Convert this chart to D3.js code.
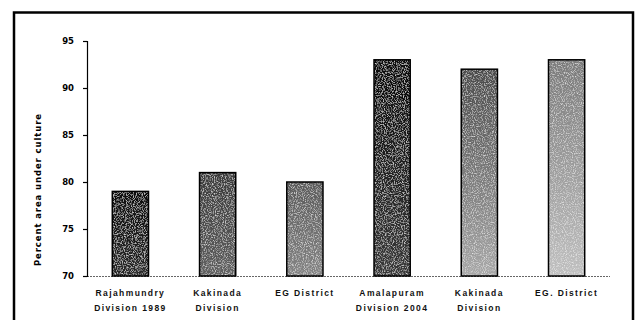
<!DOCTYPE html>
<html><head><meta charset="utf-8">
<script src="https://cdn.jsdelivr.net/npm/d3@7"></script>
<style>html,body{margin:0;padding:0;background:#fff;}</style>
</head><body>
<svg id="c" width="636" height="320"></svg>
<script>
const categories = [["Rajahmundry","Division 1989"],["Kakinada","Division"],["EG District"],["Amalapuram","Division 2004"],["Kakinada","Division"],["EG. District"]];
const values = [79, 81, 80, 93, 92, 93];
const yTicks = [70, 75, 80, 85, 90, 95];
const yTitle = "Percent area under culture";
const topShades = ["#0e0e0e","#3a3a3a","#5a5a5a","#080808","#4a4a4a","#7a7a7a"];
const botShades = ["#2a2a2a","#606060","#858585","#3a3a3a","#a8a8a8","#c0c0c0"];

const svg = d3.select("#c");
const x = d3.scaleBand().domain(d3.range(categories.length)).range([87, 610]).paddingInner(0.585).paddingOuter(0.29);
const y = d3.scaleLinear().domain([70, 95]).range([276, 41]);

const defs = svg.append("defs");
const f = defs.append("filter").attr("id","noise").attr("x",0).attr("y",0).attr("width",1).attr("height",1);
f.append("feTurbulence").attr("type","fractalNoise").attr("baseFrequency",0.9).attr("numOctaves",2).attr("seed",3).attr("result","t");
f.append("feColorMatrix").attr("in","t").attr("type","matrix")
 .attr("values","0 0 0 0 1  0 0 0 0 1  0 0 0 0 1  1.6 0 0 0 -0.75").attr("result","w");
f.append("feComposite").attr("in","w").attr("in2","SourceAlpha").attr("operator","in").attr("result","wm");
f.append("feMerge").call(m=>{m.append("feMergeNode").attr("in","SourceGraphic");m.append("feMergeNode").attr("in","wm");});
values.forEach((v,i)=>{
  const g = defs.append("linearGradient").attr("id","g"+i).attr("x1",0).attr("y1",0).attr("x2",0).attr("y2",1);
  g.append("stop").attr("offset","0%").attr("stop-color",topShades[i]);
  g.append("stop").attr("offset","100%").attr("stop-color",botShades[i]);
});

// frame
svg.append("path").attr("d","M14,330V12.5H633V330").attr("fill","none").attr("stroke","#000").attr("stroke-width",2.5);

// baseline dotted
svg.append("line").attr("x1",87).attr("x2",610).attr("y1",y(70)+0.5).attr("y2",y(70)+0.5)
  .attr("stroke","#666").attr("stroke-width",1).attr("stroke-dasharray","2,1");

// bars
svg.append("g").selectAll("rect").data(values).join("rect")
  .attr("x",(d,i)=>x(i)).attr("width",x.bandwidth())
  .attr("y",d=>y(d)).attr("height",d=>y(70)-y(d))
  .attr("fill",(d,i)=>`url(#g${i})`).attr("filter","url(#noise)");
svg.append("g").selectAll("rect").data(values).join("rect")
  .attr("x",(d,i)=>x(i)).attr("width",x.bandwidth())
  .attr("y",d=>y(d)).attr("height",d=>y(70)-y(d))
  .attr("fill","none").attr("stroke","#000").attr("stroke-width",1.5);

// y axis
const ya = svg.append("g").attr("transform","translate(87,0)")
  .call(d3.axisLeft(y).tickValues(yTicks).tickSize(4).tickPadding(9));
ya.select(".domain").attr("stroke","#000").attr("stroke-width",1.2);
ya.selectAll("line").attr("stroke","#000").attr("stroke-width",1.2);
ya.selectAll("text").attr("font-family","DejaVu Sans").attr("font-weight","bold").attr("font-size",8.5).attr("fill","#000");

// y title
svg.append("text").attr("transform","translate(41,190) rotate(-90)")
  .attr("text-anchor","middle").attr("font-family","DejaVu Sans").attr("font-weight","bold")
  .attr("font-size",8.5).attr("textLength",152).attr("lengthAdjust","spacing").text(yTitle);

// x labels
const xl = svg.append("g").selectAll("text").data(categories).join("text")
  .attr("text-anchor","middle").attr("font-family","Liberation Sans").attr("font-weight","bold")
  .attr("font-size",8.5).attr("letter-spacing",1.4).attr("fill","#111");
xl.each(function(d,i){
  const t = d3.select(this);
  d.forEach((line,j)=>{
    t.append("tspan").attr("x",x(i)+x.bandwidth()/2).attr("y",296+j*15).text(line);
  });
});
</script>
</body></html>
